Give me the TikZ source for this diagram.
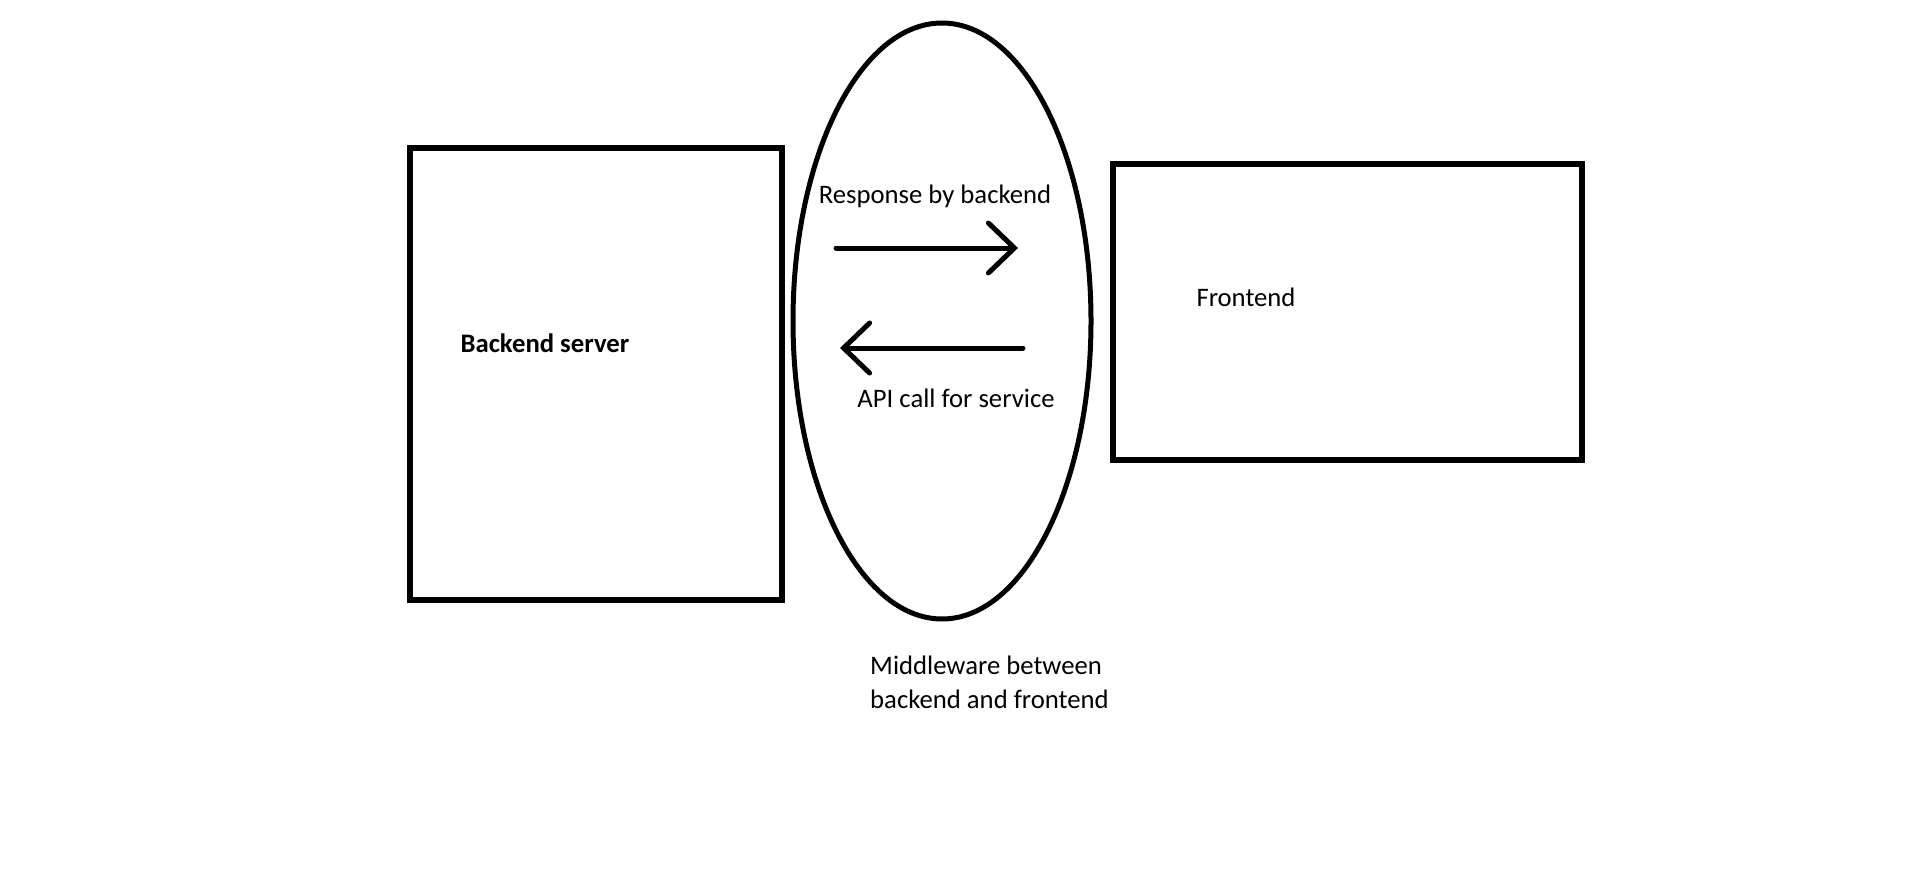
\documentclass[tikz,border=0pt]{standalone}
\usepackage{fontspec}
\setmainfont{Carlito}
\usetikzlibrary{shapes.geometric,arrows.meta}
\begin{document}
\begin{tikzpicture}[x=1pt,y=-1pt,
  box/.style={draw=black,line width=5.5pt,minimum width=#1,inner sep=0pt},
  lbl/.style={font=\fontsize{26.7}{34}\selectfont,inner sep=0pt},
  flow/.style={line width=5pt,line cap=round,-{Straight Barb[length=26pt,width=50pt,line cap=round]}}]
\useasboundingbox (0,0) rectangle (1914,896);
\fill[white] (0,0) rectangle (1914,896);
\node[box=372pt,minimum height=452pt] (backend) at (596,374) {};
\node[box=469pt,minimum height=296pt] (frontend) at (1347.5,312) {};
\node[draw=black,line width=5pt,ellipse,minimum width=298pt,minimum height=596pt,inner sep=0pt] (mw) at (942,321) {};
\node[lbl,font=\fontsize{26.7}{34}\selectfont\bfseries] (tb) at (545,343) {Backend server};
\node[lbl] (tf) at (1246,297) {Frontend};
\node[lbl] (tr) at (935,196) {Response by backend};
\node[lbl] (ta) at (956,398) {API call for service};
\node[lbl,align=left,anchor=north west] (tm) at (870,656) {Middleware between\\backend and frontend};
\coordinate (r1) at (836,248);
\coordinate (r2) at (1018,248);
\coordinate (a1) at (1023,348);
\coordinate (a2) at (840,348);
\draw[flow] (r1) -- (r2);
\draw[flow] (a1) -- (a2);
\end{tikzpicture}
\end{document}
